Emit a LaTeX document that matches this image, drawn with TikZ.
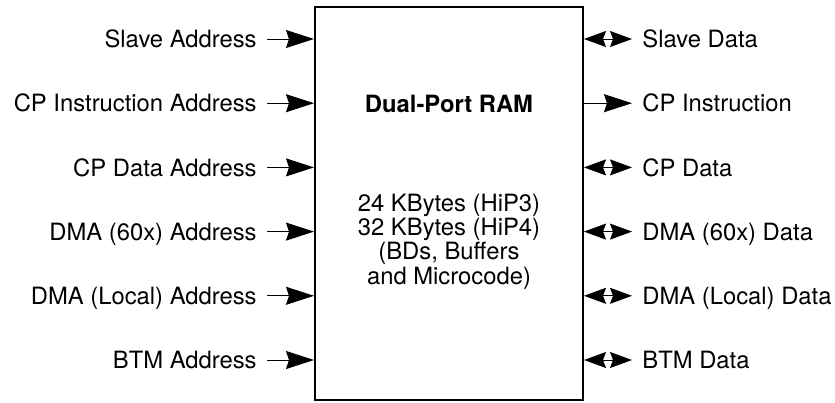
\documentclass[tikz,border=0pt]{standalone}
\usepackage{fontspec}
\setmainfont{TeX Gyre Heros}
\usepackage{tikz}
\usetikzlibrary{arrows.meta, positioning, calc}

\begin{document}
\begin{tikzpicture}[
  x=0.5pt, y=-0.5pt,
  font=\fontsize{11.9}{12.2}\selectfont,
  sig/.style={inner sep=5pt, text height=8.6pt, text depth=0pt},
  ramblock/.style={draw, line width=1pt, minimum width=134pt, minimum height=196.5pt, inner sep=0pt},
  wire/.style={line width=0.5pt, -{Stealth[length=14pt, width=9pt, inset=1.5pt]}},
  bus/.style={line width=0.5pt, {Stealth[length=11pt, width=8pt, inset=1.5pt]}-{Stealth[length=11pt, width=8pt, inset=1.5pt]}}
]
  \useasboundingbox (0,0) rectangle (835,402);

  % the RAM block
  \node[ramblock] (ram) at (449, 203.5) {};
  \node[font=\fontsize{11.9}{12.2}\selectfont\bfseries, sig] (title) at (449, 104) {Dual-Port RAM};
  \node[align=center] (size) at (449, 241.5) {24 KBytes (HiP3)\\32 KBytes (HiP4)\\(BDs, Buffers\\and Microcode)};

  % address side
  \node[sig, anchor=east] (aslave) at (267, 39)    {Slave Address};
  \node[sig, anchor=east] (acpi)   at (267, 103.2) {CP Instruction Address};
  \node[sig, anchor=east] (acpd)   at (267, 167.4) {CP Data Address};
  \node[sig, anchor=east] (adma)   at (267, 231.6) {DMA (60x) Address};
  \node[sig, anchor=east] (aloc)   at (267, 295.8) {DMA (Local) Address};
  \node[sig, anchor=east] (abtm)   at (267, 360)   {BTM Address};

  % data side
  \node[sig, anchor=west] (dslave) at (632, 39)    {Slave Data};
  \node[sig, anchor=west] (dcpi)   at (632, 103.2) {CP Instruction};
  \node[sig, anchor=west] (dcpd)   at (632, 167.4) {CP Data};
  \node[sig, anchor=west] (ddma)   at (632, 231.6) {DMA (60x) Data};
  \node[sig, anchor=west] (dloc)   at (632, 295.8) {DMA (Local) Data};
  \node[sig, anchor=west] (dbtm)   at (632, 360)   {BTM Data};

  \draw[wire] (aslave.east) -- (aslave.east -| ram.west);
  \draw[wire] (acpi.east)   -- (acpi.east -| ram.west);
  \draw[wire] (acpd.east)   -- (acpd.east -| ram.west);
  \draw[wire] (adma.east)   -- (adma.east -| ram.west);
  \draw[wire] (aloc.east)   -- (aloc.east -| ram.west);
  \draw[wire] (abtm.east)   -- (abtm.east -| ram.west);

  \draw[bus]  (dslave.west -| ram.east) -- (dslave.west);
  \draw[wire] (dcpi.west -| ram.east)   -- (dcpi.west);
  \draw[bus]  (dcpd.west -| ram.east)   -- (dcpd.west);
  \draw[bus]  (ddma.west -| ram.east)   -- (ddma.west);
  \draw[bus]  (dloc.west -| ram.east)   -- (dloc.west);
  \draw[bus]  (dbtm.west -| ram.east)   -- (dbtm.west);
\end{tikzpicture}
\end{document}
